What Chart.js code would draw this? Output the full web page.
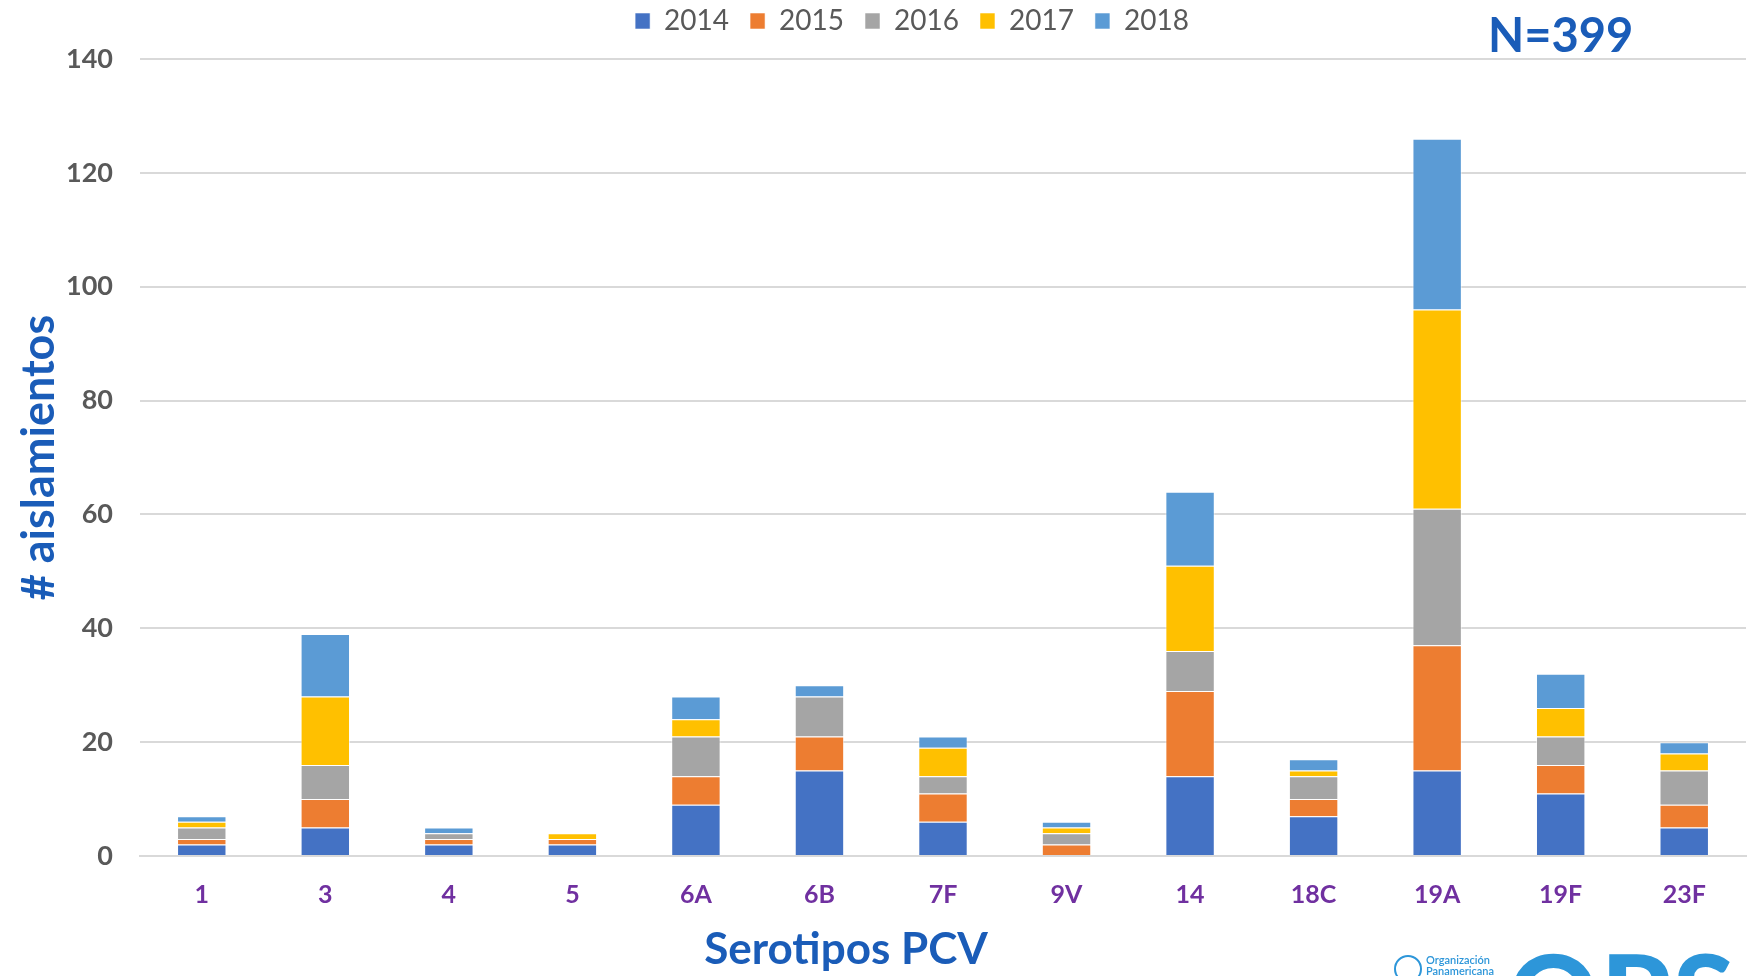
<!DOCTYPE html>
<html>
<head>
<meta charset="utf-8">
<script src="https://cdn.jsdelivr.net/npm/chart.js@4"></script>
<style>
  html, body { margin: 0; padding: 0; background: #fff; overflow: hidden; }
  #wrap { position: relative; width: 1757px; height: 976px; }
  #nTotal {
    position: absolute; left: 1488px; top: 6px;
    font: bold 47px Lato, "Open Sans", sans-serif; color: #1a5cb8;
  }
  #xTitle {
    position: absolute; left: 846px; top: 921px; transform: translateX(-50%);
    font: bold 44px Lato, "Open Sans", sans-serif; color: #1a5cb8; white-space: nowrap;
  }
  #logoSmall {
    position: absolute; left: 1426px; top: 954px;
    font: 600 11px Lato, sans-serif; color: #2d96d9; line-height: 11px;
  }
  #globe {
    position: absolute; left: 1394px; top: 955px; width: 24px; height: 24px;
    border: 2px solid #2d96d9; border-radius: 50%;
  }
  #logoBig {
    position: absolute; left: 1508px; top: 937px;
    font: 900 112px Lato, "Open Sans", sans-serif; color: #2d96d9;
    letter-spacing: 2px; line-height: 112px;
  }
</style>
</head>
<body>
<div id="wrap">
  <canvas id="serotypeChart" width="1757" height="976"></canvas>
  <div id="nTotal">N=399</div>
  <div id="xTitle">Serotipos PCV</div>
  <div id="globe"></div>
  <div id="logoSmall">Organización<br>Panamericana</div>
  <div id="logoBig">OPS</div>
</div>
<script>
const serotypes = ["1", "3", "4", "5", "6A", "6B", "7F", "9V", "14", "18C", "19A", "19F", "23F"];

const years = ["2014", "2015", "2016", "2017", "2018"];

const y2014 = [2, 5, 2, 2, 9, 15, 6, 0, 14, 7, 15, 11, 5];
const y2015 = [1, 5, 1, 1, 5, 6, 5, 2, 15, 3, 22, 5, 4];
const y2016 = [2, 6, 1, 0, 7, 7, 3, 2, 7, 4, 24, 5, 6];
const y2017 = [1, 12, 0, 1, 3, 0, 5, 1, 15, 1, 35, 5, 3];
const y2018 = [1, 11, 1, 0, 4, 2, 2, 1, 13, 2, 30, 6, 2];

const yTicks = [0, 20, 40, 60, 80, 100, 120, 140];

const yearColors = ['#4472c4', '#ed7d31', '#a5a5a5', '#ffc000', '#5b9bd5'];

const seriesValues = [y2014, y2015, y2016, y2017, y2018];

const ctx = document.getElementById("serotypeChart");

// legend box: fixed height so the plot starts where the original does,
// and nudged right like in the original slide
const legendPlace = {
    id: 'legendPlace',
    beforeUpdate(chart) {
        const legend = chart.legend;
        if (legend && !legend._fixed) {
            const fit = legend.fit;
            legend.fit = function () {
                fit.call(this);
                this.height = 73;
            };
            legend._fixed = true;
        }
    },
    afterLayout(chart) {
        chart.legend.left += 39;
        chart.legend.right += 39;
    }
};

new Chart(ctx, {

    type: 'bar',

    data: {
        labels: serotypes,
        datasets: years.map((year, i) => ({
            label: year,
            data: seriesValues[i],
            backgroundColor: yearColors[i],
            borderColor: 'rgba(255,255,255,0.55)',
            borderWidth: 1,
            barPercentage: 1,
            categoryPercentage: 0.4
        }))
    },

    options: {
        responsive: false,
        animation: false,
        layout: {
            padding: { top: -14, right: 11, bottom: 0, left: 0 }
        },
        plugins: {
            legend: {
                position: 'top',
                labels: {
                    color: '#595959',
                    boxWidth: 15,
                    boxHeight: 16,
                    padding: 21,
                    font: { family: 'Lato', size: 28 }
                }
            },
            tooltip: { enabled: false }
        },
        scales: {
            x: {
                stacked: true,
                grid: { display: false, drawTicks: false },
                border: { color: '#d9d9d9', width: 2 },
                ticks: {
                    color: '#7030a0',
                    padding: 24,
                    font: { family: 'Lato', size: 25, weight: 'bold' }
                },
                afterFit: scale => { scale.height = 120; }
            },
            y: {
                stacked: true,
                min: 0,
                max: 140,
                afterBuildTicks: scale => {
                    scale.ticks = yTicks.map(v => ({ value: v }));
                },
                grid: { color: '#d9d9d9', lineWidth: 2, drawTicks: false },
                border: { display: false },
                ticks: {
                    color: '#595959',
                    padding: 27,
                    font: { family: 'Lato', size: 27, weight: 'bold' }
                },
                title: {
                    display: true,
                    text: '# aislamientos',
                    color: '#1a5cb8',
                    padding: { top: 12, bottom: 0 },
                    font: { family: 'Lato', size: 45, weight: 'bold' }
                },
                afterFit: scale => { scale.width = 140; }
            }
        }
    },

    plugins: [legendPlace]
});
</script>
</body>
</html>
